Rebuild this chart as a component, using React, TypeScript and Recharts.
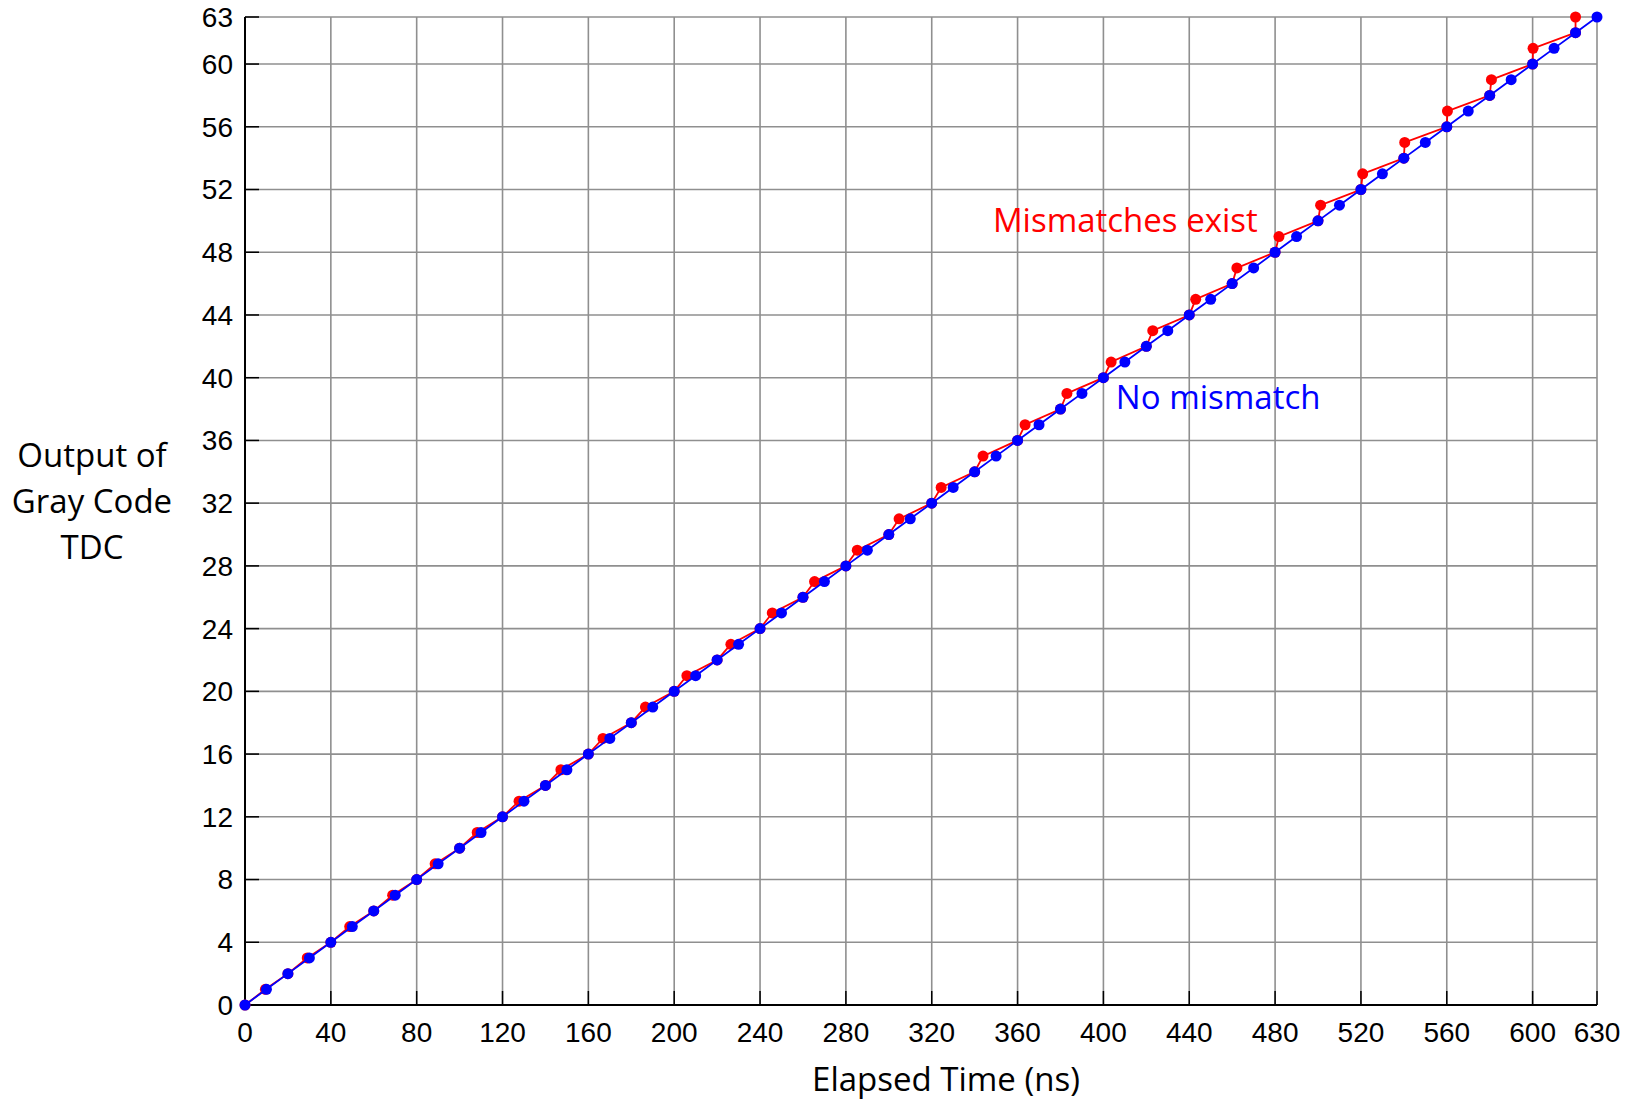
import { ScatterChart, Scatter, XAxis, YAxis, CartesianGrid, ReferenceDot } from 'recharts';

// TDC output code (0..63)
const codes = [
  0, 1, 2, 3, 4, 5, 6, 7, 8, 9, 10, 11, 12, 13, 14, 15,
  16, 17, 18, 19, 20, 21, 22, 23, 24, 25, 26, 27, 28, 29, 30, 31,
  32, 33, 34, 35, 36, 37, 38, 39, 40, 41, 42, 43, 44, 45, 46, 47,
  48, 49, 50, 51, 52, 53, 54, 55, 56, 57, 58, 59, 60, 61, 62, 63,
];

// elapsed time (ns) at which each code appears, no mismatch
const idealTime = [
  0, 10, 20, 30, 40, 50, 60, 70, 80, 90, 100, 110, 120, 130, 140, 150,
  160, 170, 180, 190, 200, 210, 220, 230, 240, 250, 260, 270, 280, 290, 300, 310,
  320, 330, 340, 350, 360, 370, 380, 390, 400, 410, 420, 430, 440, 450, 460, 470,
  480, 490, 500, 510, 520, 530, 540, 550, 560, 570, 580, 590, 600, 610, 620, 630,
];

// same, with mismatches (odd codes come early)
const mismatchTime = [
  0, 9.5, 20, 29, 40, 48.8, 60, 68.8, 80, 88.6, 100, 108.2, 120, 127.7, 140, 147.2,
  160, 166.8, 180, 186.6, 200, 205.9, 220, 226.4, 240, 245.7, 260, 265.4, 280, 285.3, 300, 304.8,
  320, 324.4, 340, 343.9, 360, 363.5, 380, 383, 400, 403.6, 420, 423, 440, 443, 460, 462.2,
  480, 481.8, 500, 501.2, 520, 520.8, 540, 540.4, 560, 560.3, 580, 580.8, 600, 600.2, 620, 620,
];

const xTicks = [0, 40, 80, 120, 160, 200, 240, 280, 320, 360, 400, 440, 480, 520, 560, 600, 630];
const yTicks = [0, 4, 8, 12, 16, 20, 24, 28, 32, 36, 40, 44, 48, 52, 56, 60, 63];

const noMismatch = codes.map((c, i) => ({ t: idealTime[i], code: c }));
const withMismatch = codes.map((c, i) => ({ t: mismatchTime[i], code: c }));

const RED = '#ff0000';
const BLUE = '#0000ff';
const TICK_FONT = '"Liberation Sans", Arial, sans-serif';
const TEXT_FONT = '"Open Sans", "Noto Sans", sans-serif';

const tickStyle = { fontSize: 28, fill: '#000', fontFamily: TICK_FONT };
const axisLine = { stroke: '#000', strokeWidth: 2 };
const tickLine = { stroke: '#000', strokeWidth: 1.5 };

function YTitle({ viewBox }: any) {
  const cx = viewBox.x + 92;
  return (
    <text textAnchor="middle" fontFamily={TEXT_FONT} fontSize={33} fill="#000">
      <tspan x={cx} y={467}>Output of</tspan>
      <tspan x={cx} y={513}>Gray Code</tspan>
      <tspan x={cx} y={559}>TDC</tspan>
    </text>
  );
}

function XTitle({ viewBox }: any) {
  return (
    <text
      x={viewBox.x + viewBox.width / 2 + 25}
      y={viewBox.y + 86}
      textAnchor="middle"
      fontFamily={TEXT_FONT}
      fontSize={33}
      fill="#000"
    >
      Elapsed Time (ns)
    </text>
  );
}

function note(text: string, color: string) {
  return ({ viewBox }: any) => (
    <text x={viewBox.x} y={viewBox.y + 12} fontFamily={TEXT_FONT} fontSize={33} fill={color}>
      {text}
    </text>
  );
}

export default function App() {
  return (
    <div style={{ position: 'absolute', left: 0, top: 0, width: 1632, height: 1102, background: '#fff' }}>
      <ScatterChart width={1632} height={1102} margin={{ top: 17, right: 35, bottom: 0, left: 0 }}>
        <CartesianGrid stroke="#8f8f8f" strokeWidth={1.6} />
        <XAxis
          type="number"
          dataKey="t"
          domain={[0, 630]}
          ticks={xTicks}
          interval={0}
          height={97}
          tick={tickStyle}
          tickSize={-14}
          tickMargin={31}
          axisLine={axisLine}
          tickLine={tickLine}
          label={{ content: XTitle }}
        />
        <XAxis
          xAxisId="top"
          orientation="top"
          type="number"
          domain={[0, 630]}
          ticks={xTicks}
          interval={0}
          height={0}
          tickSize={-14}
          tickFormatter={() => ''}
          axisLine={axisLine}
          tickLine={tickLine}
        />
        <YAxis
          type="number"
          dataKey="code"
          domain={[0, 63]}
          ticks={yTicks}
          interval={0}
          width={245}
          tick={tickStyle}
          tickSize={-14}
          tickMargin={26}
          axisLine={axisLine}
          tickLine={tickLine}
          label={{ content: YTitle }}
        />
        <YAxis
          yAxisId="right"
          orientation="right"
          type="number"
          domain={[0, 63]}
          ticks={yTicks}
          interval={0}
          width={0}
          tickSize={-14}
          tickFormatter={() => ''}
          axisLine={axisLine}
          tickLine={tickLine}
        />
        <Scatter
          name="Mismatches exist"
          data={withMismatch}
          line={{ stroke: RED, strokeWidth: 1.8 }}
          shape={(p: any) => <circle cx={p.cx} cy={p.cy} r={5.5} fill={RED} />}
          isAnimationActive={false}
        />
        <Scatter
          name="No mismatch"
          data={noMismatch}
          line={{ stroke: BLUE, strokeWidth: 1.8 }}
          shape={(p: any) => <circle cx={p.cx} cy={p.cy} r={5.5} fill={BLUE} />}
          isAnimationActive={false}
        />
        <ReferenceDot x={348.5} y={50.05} r={0} stroke="none" label={{ content: note('Mismatches exist', RED) }} />
        <ReferenceDot x={405.8} y={38.75} r={0} stroke="none" label={{ content: note('No mismatch', BLUE) }} />
      </ScatterChart>
    </div>
  );
}
